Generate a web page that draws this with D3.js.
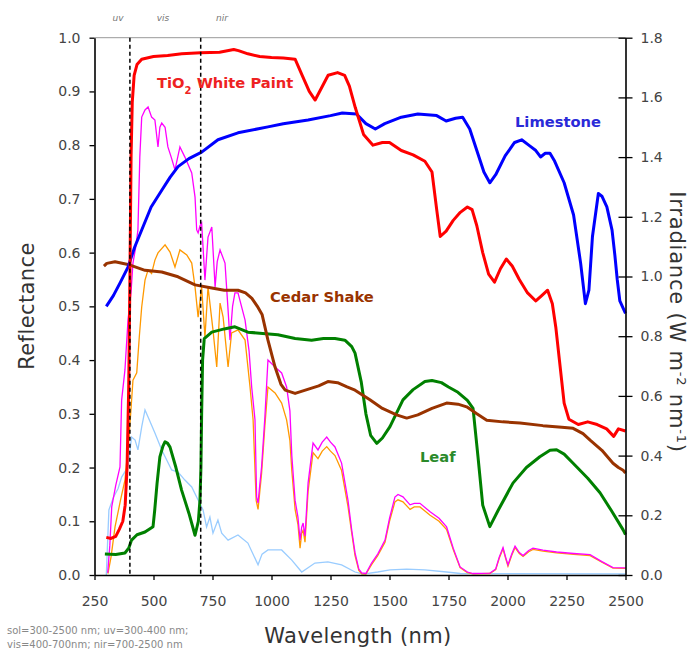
<!DOCTYPE html>
<html>
<head>
<meta charset="utf-8">
<script src="https://cdn.jsdelivr.net/npm/d3@7"></script>
<style>
  html, body { margin: 0; padding: 0; background: #fff; }
  svg { display: block; }
  text { font-family: "DejaVu Sans", sans-serif; }
</style>
</head>
<body>
<svg id="chart" width="691" height="654"></svg>
<script>
// ---- Reflectance spectra: [wavelength nm, reflectance] ----
const tio2 = [[300,0.07],[320,0.068],[340,0.072],[355,0.085],[370,0.1],[380,0.13],[388,0.2],[395,0.35],[400,0.55],[405,0.78],[410,0.88],[418,0.93],[430,0.95],[450,0.96],[500,0.965],[560,0.967],[620,0.97],[700,0.972],[780,0.973],[840,0.978],[860,0.976],[900,0.97],[950,0.965],[1000,0.963],[1050,0.962],[1100,0.96],[1130,0.93],[1160,0.9],[1185,0.884],[1210,0.905],[1240,0.93],[1280,0.935],[1310,0.93],[1330,0.91],[1355,0.87],[1390,0.82],[1430,0.8],[1470,0.805],[1500,0.805],[1550,0.79],[1600,0.782],[1650,0.77],[1680,0.75],[1700,0.68],[1715,0.63],[1740,0.64],[1770,0.66],[1800,0.675],[1830,0.685],[1850,0.68],[1870,0.65],[1895,0.6],[1920,0.56],[1945,0.545],[1970,0.57],[1995,0.588],[2020,0.575],[2050,0.55],[2085,0.525],[2120,0.51],[2145,0.52],[2170,0.53],[2190,0.505],[2205,0.46],[2220,0.4],[2240,0.32],[2260,0.29],[2300,0.28],[2340,0.285],[2380,0.28],[2420,0.272],[2450,0.258],[2470,0.272],[2500,0.268]];

const limestone = [[300,0.5],[330,0.52],[360,0.545],[392,0.573],[420,0.61],[450,0.642],[490,0.685],[535,0.716],[570,0.74],[604,0.76],[650,0.775],[704,0.787],[773,0.81],[858,0.823],[985,0.834],[1050,0.84],[1155,0.847],[1250,0.855],[1300,0.86],[1360,0.858],[1400,0.84],[1440,0.83],[1480,0.84],[1550,0.852],[1620,0.858],[1700,0.855],[1740,0.845],[1780,0.85],[1810,0.852],[1840,0.83],[1870,0.79],[1900,0.75],[1925,0.73],[1950,0.745],[1990,0.78],[2030,0.805],[2060,0.81],[2090,0.8],[2120,0.79],[2140,0.778],[2160,0.785],[2180,0.785],[2200,0.77],[2240,0.73],[2280,0.67],[2310,0.58],[2330,0.505],[2345,0.53],[2360,0.63],[2385,0.71],[2400,0.705],[2421,0.685],[2443,0.642],[2455,0.595],[2465,0.55],[2476,0.51],[2500,0.487]];

const cedarShake = [[290,0.575],[302,0.58],[337,0.583],[392,0.578],[464,0.567],[535,0.564],[604,0.555],[676,0.54],[747,0.534],[800,0.53],[858,0.53],[890,0.525],[917,0.515],[940,0.5],[960,0.485],[985,0.437],[1015,0.387],[1040,0.355],[1058,0.344],[1100,0.338],[1150,0.345],[1200,0.352],[1239,0.36],[1280,0.358],[1320,0.35],[1354,0.344],[1417,0.326],[1470,0.31],[1530,0.298],[1573,0.292],[1620,0.298],[1680,0.31],[1742,0.32],[1790,0.318],[1827,0.313],[1870,0.3],[1912,0.288],[1980,0.285],[2053,0.283],[2150,0.278],[2230,0.275],[2278,0.273],[2320,0.263],[2350,0.251],[2400,0.232],[2447,0.208],[2470,0.2],[2490,0.195],[2500,0.19]];

const leaf = [[294,0.039],[340,0.038],[379,0.041],[395,0.05],[407,0.065],[430,0.075],[464,0.08],[498,0.09],[505,0.12],[515,0.17],[527,0.22],[540,0.24],[549,0.248],[560,0.245],[570,0.238],[595,0.2],[619,0.158],[650,0.115],[676,0.074],[690,0.1],[697,0.14],[701,0.2],[704,0.3],[708,0.4],[715,0.44],[747,0.452],[800,0.458],[845,0.462],[900,0.452],[950,0.45],[1027,0.447],[1100,0.44],[1170,0.437],[1220,0.44],[1269,0.44],[1311,0.437],[1340,0.425],[1354,0.413],[1380,0.36],[1400,0.3],[1420,0.26],[1446,0.245],[1470,0.255],[1502,0.276],[1557,0.326],[1600,0.345],[1650,0.36],[1680,0.362],[1720,0.358],[1750,0.35],[1790,0.34],[1830,0.325],[1854,0.31],[1875,0.22],[1895,0.13],[1925,0.09],[1960,0.12],[2023,0.171],[2080,0.2],[2137,0.22],[2180,0.232],[2208,0.233],[2240,0.225],[2278,0.208],[2340,0.18],[2392,0.153],[2440,0.12],[2490,0.084],[2500,0.075]];

// ---- Solar irradiance spectra: [wavelength nm, W m^-2 nm^-1] ----
const irrGlobal = [[306,0.007],[315,0.1],[323,0.228],[340,0.3],[358,0.362],[365,0.586],[379,0.687],[392,0.854],[405,0.95],[413,1.045],[425,1.1],[434,1.156],[442,1.4],[450,1.534],[464,1.558],[477,1.568],[492,1.534],[506,1.524],[519,1.434],[527,1.5],[535,1.514],[549,1.5],[561,1.434],[575,1.4],[591,1.357],[612,1.434],[633,1.4],[662,1.347],[676,1.266],[683,1.156],[689,1.146],[697,1.17],[704,1.179],[718,0.988],[731,1.132],[747,1.166],[761,0.965],[770,1.05],[782,1.089],[803,1.045],[815,0.9],[824,0.787],[835,0.9],[845,0.945],[858,0.945],[888,0.854],[905,0.75],[916,0.63],[930,0.52],[937,0.261],[943,0.241],[950,0.3],[958,0.362],[972,0.529],[985,0.72],[1015,0.697],[1043,0.677],[1064,0.63],[1078,0.55],[1086,0.4],[1100,0.25],[1112,0.194],[1121,0.117],[1128,0.16],[1134,0.174],[1142,0.13],[1155,0.308],[1176,0.442],[1197,0.419],[1215,0.445],[1234,0.462],[1250,0.445],[1269,0.429],[1297,0.375],[1324,0.251],[1340,0.15],[1354,0.074],[1370,0.02],[1382,0.007],[1400,0.005],[1424,0.04],[1450,0.07],[1481,0.117],[1500,0.19],[1523,0.261],[1536,0.27],[1557,0.262],[1587,0.235],[1605,0.24],[1629,0.24],[1672,0.212],[1710,0.19],[1742,0.161],[1770,0.09],[1799,0.027],[1830,0.01],[1854,0.005],[1925,0.006],[1950,0.02],[1965,0.06],[1981,0.092],[1992,0.06],[2002,0.034],[2018,0.07],[2032,0.097],[2050,0.075],[2066,0.065],[2090,0.082],[2108,0.09],[2150,0.083],[2208,0.077],[2280,0.072],[2350,0.068],[2400,0.045],[2447,0.025],[2500,0.024]];

const irrDirect = [[307,0.005],[320,0.06],[337,0.161],[360,0.25],[379,0.318],[395,0.45],[405,0.56],[413,0.653],[429,0.677],[440,0.8],[450,0.898],[464,0.988],[477,1.022],[492,1.01],[506,1.055],[519,1.079],[549,1.106],[570,1.082],[591,1.032],[612,1.089],[641,1.072],[662,1.045],[676,0.965],[689,0.864],[704,0.965],[718,0.797],[731,0.965],[752,0.821],[768,0.697],[782,0.911],[795,0.864],[816,0.697],[831,0.811],[858,0.821],[888,0.787],[909,0.63],[922,0.52],[935,0.25],[943,0.22],[958,0.34],[972,0.5],[985,0.63],[1015,0.61],[1043,0.576],[1064,0.52],[1078,0.45],[1086,0.35],[1100,0.22],[1112,0.17],[1121,0.09],[1128,0.14],[1134,0.15],[1142,0.11],[1155,0.28],[1176,0.41],[1197,0.39],[1215,0.415],[1234,0.43],[1250,0.415],[1269,0.4],[1297,0.35],[1324,0.23],[1340,0.14],[1354,0.065],[1370,0.015],[1382,0.004],[1400,0.003],[1424,0.035],[1450,0.065],[1481,0.11],[1500,0.18],[1523,0.245],[1536,0.252],[1557,0.245],[1587,0.22],[1605,0.228],[1629,0.228],[1672,0.2],[1710,0.18],[1742,0.152],[1770,0.085],[1799,0.025],[1830,0.008],[1854,0.004],[1925,0.005],[1950,0.018],[1965,0.056],[1981,0.088],[1992,0.056],[2002,0.03],[2018,0.066],[2032,0.092],[2050,0.072],[2066,0.062],[2090,0.078],[2108,0.086],[2150,0.08],[2208,0.074],[2280,0.069],[2350,0.065],[2400,0.043],[2447,0.023],[2500,0.022]];

const irrDiffuse = [[300,0.0],[305,0.1],[311,0.218],[330,0.26],[350,0.29],[365,0.328],[392,0.362],[407,0.462],[422,0.452],[434,0.419],[450,0.496],[464,0.553],[477,0.529],[506,0.476],[535,0.419],[577,0.352],[604,0.345],[633,0.318],[662,0.295],[689,0.251],[710,0.218],[725,0.161],[739,0.194],[752,0.14],[773,0.184],[789,0.14],[816,0.117],[858,0.134],[900,0.107],[943,0.034],[960,0.07],[985,0.084],[1043,0.084],[1086,0.05],[1128,0.01],[1184,0.04],[1239,0.044],[1297,0.034],[1354,0.01],[1388,0.003],[1450,0.01],[1502,0.017],[1573,0.02],[1650,0.017],[1742,0.01],[1800,0.005],[2500,0.004]];

// ---- Axis ticks and band markers ----
const wavelengthTicks = [250,500,750,1000,1250,1500,1750,2000,2250,2500];
const reflectanceTicks = [0,0.1,0.2,0.3,0.4,0.5,0.6,0.7,0.8,0.9,1.0];
const irradianceTicks = [0,0.2,0.4,0.6,0.8,1.0,1.2,1.4,1.6,1.8];
const bandEdges = [400, 700];
const bandLabels = [["uv",350],["vis",540],["nir",790]];
const footnote = ["sol=300-2500 nm; uv=300-400 nm;", "vis=400-700nm; nir=700-2500 nm"];

const svg = d3.select("#chart");
const L = 94.5, R = 625.5, T = 37.7, B = 575;

const x = d3.scaleLinear().domain([250, 2500]).range([L, R]);
const yRef = d3.scaleLinear().domain([0, 1]).range([B, T]);
const yIrr = d3.scaleLinear().domain([0, 1.8]).range([B, T]);

// top frame line
svg.append("line").attr("x1", L).attr("x2", R).attr("y1", T).attr("y2", T)
  .attr("stroke", "#999").attr("stroke-width", 1);

const lineRef = d3.line().x(d => x(d[0])).y(d => yRef(d[1]));
const lineIrr = d3.line().x(d => x(d[0])).y(d => yIrr(d[1]));

const plot = svg.append("g");
// irradiance spectra (thin)
[[irrDiffuse, "#99ccff"], [irrDirect, "#ff9900"], [irrGlobal, "#ff00ff"]].forEach(([data, col]) => {
  plot.append("path").datum(data).attr("d", lineIrr)
    .attr("fill", "none").attr("stroke", col).attr("stroke-width", 1.3);
});

// reflectance spectra (thick)
[[leaf, "#008000"], [cedarShake, "#993300"], [limestone, "#0000ff"], [tio2, "#ff0000"]].forEach(([data, col]) => {
  plot.append("path").datum(data).attr("d", lineRef)
    .attr("fill", "none").attr("stroke", col).attr("stroke-width", 3)
    .attr("stroke-linejoin", "round");
});

// band boundaries
svg.selectAll(".band").data(bandEdges).enter().append("line")
  .attr("x1", d => x(d)).attr("x2", d => x(d))
  .attr("y1", T).attr("y2", B)
  .attr("stroke", "#000").attr("stroke-width", 1.5)
  .attr("stroke-dasharray", "4,3");

svg.selectAll(".bandLabel").data(bandLabels).enter().append("text")
  .attr("x", d => x(d[1])).attr("y", 21)
  .attr("text-anchor", "middle")
  .attr("font-size", 9).attr("font-style", "italic").attr("fill", "#777")
  .text(d => d[0]);

// axes
const fmt = d3.format(".1f");
const axL = svg.append("g").attr("transform", `translate(${L},0)`)
  .call(d3.axisLeft(yRef).tickValues(reflectanceTicks).tickFormat(fmt).tickSize(5).tickSizeOuter(0).tickPadding(9));
const axB = svg.append("g").attr("transform", `translate(0,${B})`)
  .call(d3.axisBottom(x).tickValues(wavelengthTicks).tickFormat(d3.format("d")).tickSize(5).tickSizeOuter(0).tickPadding(16));
const axR = svg.append("g").attr("transform", `translate(${R},0)`)
  .call(d3.axisRight(yIrr).tickValues(irradianceTicks).tickFormat(fmt).tickSize(7).tickSizeOuter(0).tickPadding(8));
axR.selectAll(".tick line").attr("x1", -7);

[axL, axB, axR].forEach(g => {
  g.select(".domain").attr("stroke", "#000").attr("stroke-width", 1.6);
  g.selectAll(".tick line").attr("stroke", "#000").attr("stroke-width", 1.3);
  g.selectAll(".tick text").attr("font-family", "DejaVu Sans, sans-serif")
    .attr("font-size", 14).attr("fill", "#444");
});

// axis titles
svg.append("text").attr("x", 358).attr("y", 643).attr("text-anchor", "middle")
  .attr("font-size", 21).attr("letter-spacing", 0.4).attr("fill", "#333").text("Wavelength (nm)");
svg.append("text").attr("transform", "translate(34,306) rotate(-90)")
  .attr("text-anchor", "middle").attr("font-size", 21).attr("letter-spacing", 0.4)
  .attr("fill", "#333").text("Reflectance");
const irrTitle = svg.append("text").attr("transform", "translate(670,322) rotate(90)")
  .attr("text-anchor", "middle").attr("font-size", 21).attr("letter-spacing", 0.8).attr("fill", "#333");
irrTitle.append("tspan").text("Irradiance (W m");
irrTitle.append("tspan").attr("baseline-shift", "super").attr("font-size", 13).text("-2");
irrTitle.append("tspan").text(" nm");
irrTitle.append("tspan").attr("baseline-shift", "super").attr("font-size", 13).text("-1");
irrTitle.append("tspan").text(")");

// series labels
const lab = (xp, yp, col) => svg.append("text").attr("x", xp).attr("y", yp)
  .attr("font-family", "Liberation Sans, Arial, sans-serif")
  .attr("font-weight", "bold").attr("font-size", 14.7).attr("fill", col);
const tLab = lab(157, 88, "#ee2222");
tLab.append("tspan").text("TiO");
tLab.append("tspan").attr("baseline-shift", "sub").attr("font-size", 10).text("2");
tLab.append("tspan").text(" White Paint");
lab(515, 127, "#2a2ad8").text("Limestone");
lab(270, 302, "#993300").text("Cedar Shake");
lab(420, 462, "#2a8a2a").text("Leaf");

// footnote
svg.selectAll(".foot").data(footnote).enter().append("text")
  .attr("x", 7).attr("y", (d, i) => 634 + i * 14)
  .attr("font-size", 10).attr("fill", "#888").text(d => d);
</script>
</body>
</html>
